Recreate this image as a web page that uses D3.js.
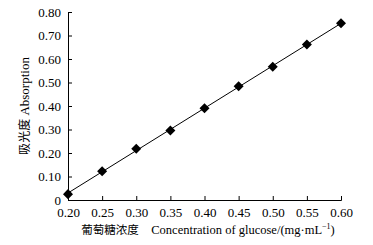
<!DOCTYPE html>
<html lang="en">
<head>
<meta charset="UTF-8">
<title>Glucose standard curve</title>
<script src="https://d3js.org/d3.v7.min.js"></script>
<style>
  body { margin: 0; background: #fff; }
  svg { display: block; font-family: "Liberation Serif", "Times New Roman", serif; }
</style>
</head>
<body>
<svg width="373" height="245"></svg>
<script>
  // data
  const concentration = [0.20, 0.25, 0.30, 0.35, 0.40, 0.45, 0.50, 0.55, 0.60];
  const absorption = [0.025, 0.122, 0.218, 0.296, 0.390, 0.484, 0.567, 0.662, 0.752];
  const xTicks = [0.20, 0.25, 0.30, 0.35, 0.40, 0.45, 0.50, 0.55, 0.60];
  const yTicks = [0, 0.10, 0.20, 0.30, 0.40, 0.50, 0.60, 0.70, 0.80];

  const svg = d3.select("svg");
  const margin = { left: 68, right: 32, top: 12, bottom: 45 };
  const width = 373, height = 245;

  const x = d3.scaleLinear().domain([0.20, 0.60]).range([margin.left, width - margin.right]);
  const y = d3.scaleLinear().domain([0, 0.80]).range([height - margin.bottom, margin.top]);

  // x axis, ticks pointing up
  const xAxis = svg.append("g")
    .attr("transform", `translate(0,${y(0)})`)
    .call(d3.axisBottom(x).tickValues(xTicks).tickSize(-4).tickPadding(8).tickFormat(d3.format(".2f")));
  xAxis.select(".domain").attr("stroke", "#000");
  xAxis.selectAll("text").attr("font-size", 13).attr("fill", "#000")
    .attr("font-family", "Liberation Serif, serif");

  // y axis, ticks pointing right
  const yAxis = svg.append("g")
    .attr("transform", `translate(${x(0.20)},0)`)
    .call(d3.axisLeft(y).tickValues(yTicks).tickSize(-4).tickPadding(7)
      .tickFormat(d => d === 0 ? "0" : d3.format(".2f")(d)));
  yAxis.select(".domain").attr("stroke", "#000");
  yAxis.selectAll("text").attr("font-size", 13).attr("fill", "#000")
    .attr("font-family", "Liberation Serif, serif");

  // least squares trend line through the points
  const n = concentration.length;
  const mx = d3.mean(concentration), my = d3.mean(absorption);
  const slope = d3.sum(concentration, (c, i) => (c - mx) * (absorption[i] - my)) /
                d3.sum(concentration, c => (c - mx) * (c - mx));
  const intercept = my - slope * mx;
  const ends = [concentration[0], concentration[n - 1]];

  svg.append("line")
    .attr("x1", x(ends[0])).attr("y1", y(intercept + slope * ends[0]))
    .attr("x2", x(ends[1])).attr("y2", y(intercept + slope * ends[1]))
    .attr("stroke", "#000").attr("stroke-width", 1);

  svg.append("g").selectAll("path")
    .data(concentration)
    .join("path")
    .attr("d", d3.symbol(d3.symbolDiamond2, 64))
    .attr("transform", (d, i) => `translate(${x(d)},${y(absorption[i])})`)
    .attr("fill", "#000");

  // axis titles
  svg.append("text")
    .attr("transform", `translate(29,${(y(0) + y(0.8)) / 2}) rotate(-90)`)
    .attr("text-anchor", "middle")
    .attr("font-size", 13)
    .html('<tspan font-family="Noto Sans CJK SC" font-size="12">吸光度</tspan> Absorption');

  svg.append("text")
    .attr("x", 208).attr("y", 234)
    .attr("text-anchor", "middle")
    .attr("font-size", 12.5)
    .html('<tspan font-family="Noto Sans CJK SC" font-size="11.5">葡萄糖浓度</tspan>\u2003Concentration of glucose/(mg·mL<tspan dy="-5" font-size="8">−1</tspan><tspan dy="5">)</tspan>');
</script>
</body>
</html>
